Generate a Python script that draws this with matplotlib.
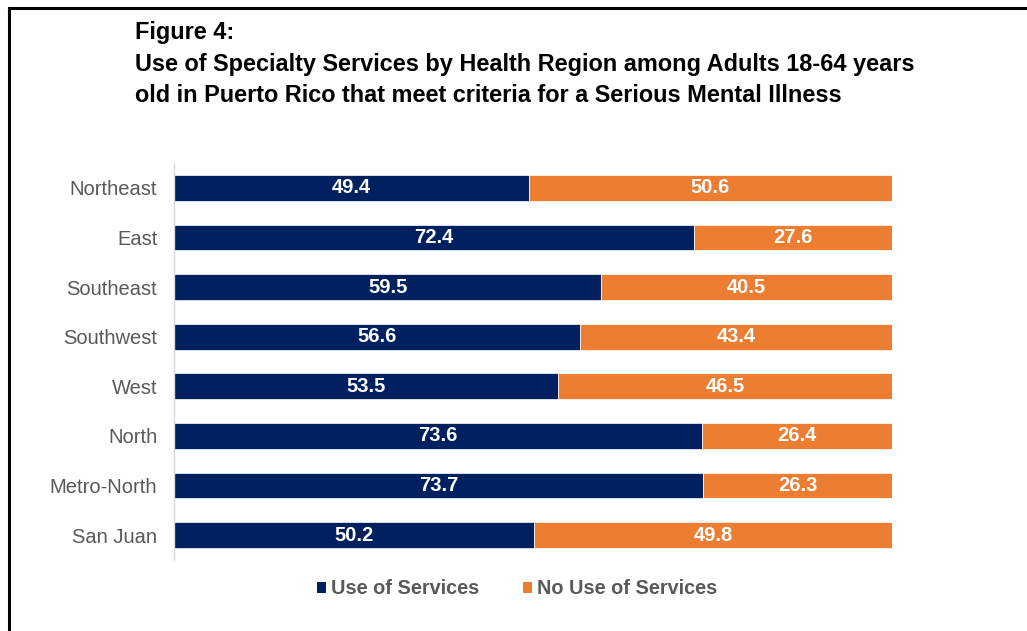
import matplotlib
matplotlib.use("Agg")
import matplotlib.pyplot as plt
from matplotlib.patches import Patch
from matplotlib.lines import Line2D

regions = ["Northeast", "East", "Southeast", "Southwest", "West", "North", "Metro-North", "San Juan"]
use_services = [49.4, 72.4, 59.5, 56.6, 53.5, 73.6, 73.7, 50.2]
no_use_services = [50.6, 27.6, 40.5, 43.4, 46.5, 26.4, 26.3, 49.8]
series_names = ["Use of Services", "No Use of Services"]
colors = ["#002060", "#ED7D31"]

plt.rcParams["font.family"] = ["Liberation Sans", "DejaVu Sans"]

fig = plt.figure(figsize=(10.27, 6.31), dpi=100)
ax = fig.add_axes([174/1027, 1-560/631, (892-174)/1027, 397/631])

y = list(range(len(regions)))
h = 0.52
ax.barh(y, use_services, height=h, color=colors[0], edgecolor="white", linewidth=0.5)
ax.barh(y, no_use_services, left=use_services, height=h, color=colors[1], edgecolor="white", linewidth=0.5)
for i in y:
    ax.text(use_services[i]/2, i, f"{use_services[i]:.1f}", color="white", fontsize=14.5,
            fontweight="bold", ha="center", va="center")
    ax.text(use_services[i] + no_use_services[i]/2, i, f"{no_use_services[i]:.1f}", color="white",
            fontsize=14.5, fontweight="bold", ha="center", va="center")

ax.set_xlim(0, 100)
ax.set_ylim(len(regions)-0.5, -0.5)
ax.set_yticks(y)
ax.set_yticklabels(regions, fontsize=14.5, color="#595959")
ax.tick_params(axis="y", length=0, pad=12)
ax.set_xticks([])
for s in ["top", "right", "bottom"]:
    ax.spines[s].set_visible(False)
ax.spines["left"].set_color("#D9D9D9")
ax.spines["left"].set_linewidth(1)

handles = [Patch(facecolor=c, edgecolor="none") for c in colors]
fig.legend(handles, series_names, loc="center", bbox_to_anchor=(517/1027, 1-589/631), ncol=2,
           frameon=False, prop={"size": 14.3, "weight": "bold"},
           labelcolor="#595959", handlelength=0.45, handleheight=0.45, handletextpad=0.25,
           columnspacing=2.2)

title_lines = ["Figure 4:",
               "Use of Specialty Services by Health Region among Adults 18-64 years",
               "old in Puerto Rico that meet criteria for a Serious Mental Illness"]
for ty, line in zip([33, 64, 96], title_lines):
    fig.text(135/1027, 1-ty/631, line, fontsize=16.9, fontweight="bold", va="center", ha="left",
             color="black")

fig.add_artist(Line2D([8.5/1027, 1], [1-7.5/631, 1-7.5/631], transform=fig.transFigure, color="black", linewidth=2.2))
fig.add_artist(Line2D([8.5/1027, 8.5/1027], [0, 1-7.5/631], transform=fig.transFigure, color="black", linewidth=2.2))

fig.savefig("out.png", dpi=100)
